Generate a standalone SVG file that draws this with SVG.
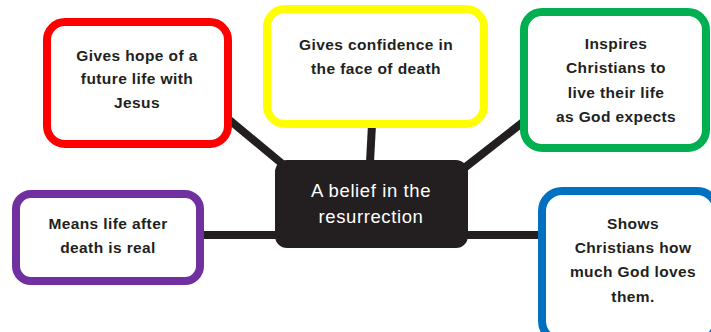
<svg xmlns="http://www.w3.org/2000/svg" width="711" height="332" viewBox="0 0 711 332">
  <style>
    .box { fill: #ffffff; stroke-width: 8; }
    .lbl { font-family: "Liberation Sans", Arial, sans-serif; font-weight: bold; font-size: 15.5px; fill: #231f20; text-anchor: middle; letter-spacing: 0.4px; }
    .hub { font-family: "Liberation Sans", Arial, sans-serif; font-size: 18.5px; fill: #ffffff; text-anchor: middle; letter-spacing: 0.6px; }
    .link { stroke: #231f20; stroke-width: 8; fill: none; }
  </style>
  <rect width="711" height="332" fill="#ffffff"/>

  <!-- spokes from the central idea to each outcome -->
  <g id="connectors">
    <line class="link" x1="227" y1="118" x2="286" y2="167"/>
    <line class="link" x1="373" y1="106" x2="370" y2="162"/>
    <line class="link" x1="527" y1="119" x2="463" y2="169"/>
    <line class="link" x1="200" y1="235" x2="277" y2="235"/>
    <line class="link" x1="466" y1="235" x2="543" y2="235"/>
  </g>

  <g id="hope">
    <rect class="box" x="47" y="22" width="181" height="122" rx="18" stroke="#ff0000"/>
    <text class="lbl" x="137" y="61">Gives hope of a</text>
    <text class="lbl" x="137" y="84">future life with</text>
    <text class="lbl" x="137" y="108">Jesus</text>
  </g>

  <g id="confidence">
    <rect class="box" x="267" y="9" width="217" height="115" rx="18" stroke="#ffff00"/>
    <text class="lbl" x="376" y="50">Gives confidence in</text>
    <text class="lbl" x="376" y="74">the face of death</text>
  </g>

  <g id="inspires">
    <rect class="box" x="524" y="12" width="182" height="136" rx="18" stroke="#00b050"/>
    <text class="lbl" x="616" y="49">Inspires</text>
    <text class="lbl" x="616" y="73">Christians to</text>
    <text class="lbl" x="616" y="98">live their life</text>
    <text class="lbl" x="616" y="122">as God expects</text>
  </g>

  <g id="real">
    <rect class="box" x="16" y="194" width="184" height="87" rx="15" stroke="#7030a0"/>
    <text class="lbl" x="108" y="229">Means life after</text>
    <text class="lbl" x="108" y="253">death is real</text>
  </g>

  <g id="love">
    <rect class="box" x="542" y="191" width="175" height="150" rx="20" stroke="#0070c0"/>
    <text class="lbl" x="633" y="229">Shows</text>
    <text class="lbl" x="633" y="253">Christians how</text>
    <text class="lbl" x="633" y="277">much God loves</text>
    <text class="lbl" x="633" y="302">them.</text>
  </g>

  <g id="belief">
    <rect x="275" y="160" width="193" height="88" rx="12" fill="#231f20"/>
    <text class="hub" x="371" y="197">A belief in the</text>
    <text class="hub" x="371" y="223">resurrection</text>
  </g>
</svg>
